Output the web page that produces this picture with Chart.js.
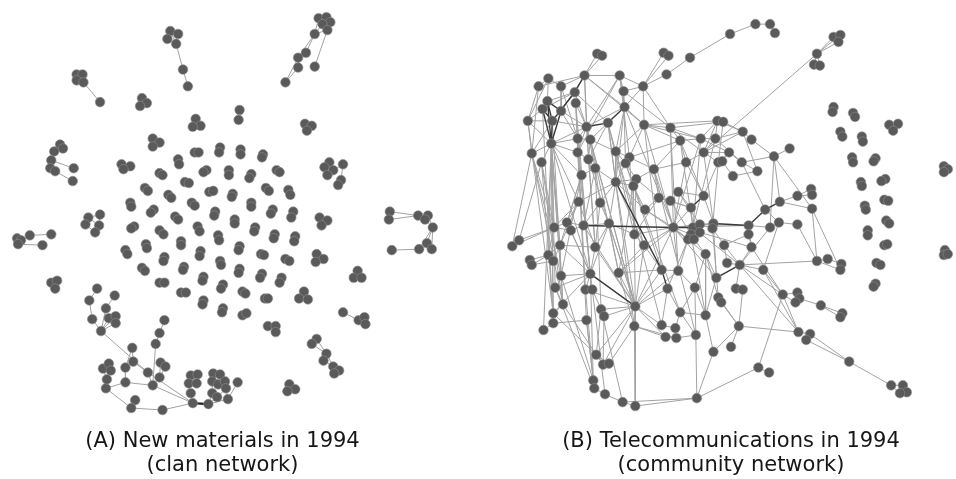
<!DOCTYPE html>
<html>
<head>
<meta charset="utf-8">
<script src="https://cdn.jsdelivr.net/npm/chart.js@4.4.1/dist/chart.umd.min.js"></script>
<style>
html, body { margin: 0; padding: 0; background: #fff; overflow: hidden; width: 956px; height: 479px; }
.wrap { position: absolute; top: 0; }
</style>
</head>
<body>
<div class="wrap" style="left:0"><canvas id="chartA" width="445" height="479"></canvas></div>
<div class="wrap" style="left:500px"><canvas id="chartB" width="462" height="479"></canvas></div>
<script>
// TITLES
const titleA = ["(A) New materials in 1994", "(clan network)"]
const titleB = ["(B) Telecommunications in 1994", "(community network)"]

// (A) NODES THAT HAVE TIES  [x, y]
const nodesA = [
    [169, 26], [177, 29], [166, 34], [175, 39], [182, 65], [187, 82],                          // 0-5
    [321, 13], [329, 12], [333, 17], [325, 19], [330, 25], [317, 29], [308, 48], [300, 53],    // 6-13
    [300, 63], [287, 78], [317, 62],                                                           // 14-16
    [73, 70], [79, 70], [73, 76], [80, 78], [97, 98],                                          // 17-21
    [56, 141], [59, 145], [50, 148], [47, 157], [46, 165], [51, 168], [70, 165], [69, 178],    // 22-29
    [12, 236], [16, 238], [13, 242], [25, 233], [47, 232], [38, 243],                          // 30-35
    [97, 212], [85, 215], [82, 222], [96, 223], [92, 230],                                     // 36-40
    [394, 209], [393, 217], [423, 213], [433, 213], [430, 217], [438, 225], [432, 241],        // 41-47
    [424, 247], [437, 247], [396, 248],                                                        // 48-50
    [332, 159], [327, 164], [336, 167], [330, 172], [346, 161], [344, 177], [341, 182],        // 51-57
    [346, 311], [362, 319], [368, 316], [369, 323],                                            // 58-61
    [319, 338], [314, 343], [329, 353], [326, 360], [336, 366], [342, 370], [337, 373],        // 62-68
    [94, 287], [112, 294], [86, 299], [103, 307], [106, 317], [113, 315], [113, 322],          // 69-75
    [89, 318], [98, 330], [163, 319], [158, 332], [154, 343], [151, 385], [130, 347],          // 76-82
    [131, 361], [123, 367], [123, 382], [103, 388], [104, 379], [100, 368], [106, 363],        // 83-89
    [108, 370], [146, 372], [159, 362], [164, 366], [158, 377], [133, 400], [129, 408],        // 90-96
    [161, 410], [192, 403], [208, 404], [228, 399], [238, 382], [190, 375], [197, 374],        // 97-103
    [188, 383], [196, 383], [190, 393], [213, 373], [220, 374], [212, 381], [218, 384],        // 104-110
    [225, 381], [226, 388], [212, 393], [217, 397]                                             // 111-114
]

const edgesA = [
    [0, 1], [0, 2], [1, 3], [2, 3], [0, 3], [3, 4], [4, 5],
    [6, 7], [6, 9], [7, 8], [8, 10], [9, 10], [9, 11], [10, 11], [6, 11], [7, 10], [11, 12], [11, 13],
    [12, 13], [13, 14], [14, 15], [13, 15], [10, 16],
    [17, 18], [17, 19], [18, 20], [19, 20], [20, 21],
    [22, 23], [22, 24], [24, 25], [25, 26], [26, 27], [25, 28], [27, 29], [23, 24],
    [30, 31], [31, 33], [33, 34], [32, 35], [30, 32], [31, 32],
    [36, 37], [37, 38], [36, 39], [38, 40], [39, 40], [37, 39],
    [41, 43], [42, 43], [43, 44], [43, 45], [44, 45], [44, 46], [45, 46], [46, 47], [46, 48], [46, 49],
    [47, 48], [47, 49], [48, 50],
    [51, 52], [51, 53], [52, 54], [53, 54], [52, 53], [53, 55], [55, 56], [56, 57],
    [58, 59], [59, 60], [59, 61], [60, 61],
    [62, 63], [62, 64], [63, 64], [64, 65], [64, 66], [65, 66], [66, 67], [66, 68], [67, 68],
    [69, 71], [71, 76], [76, 77], [70, 72], [72, 77], [73, 77], [74, 77], [75, 77],
    [78, 79], [79, 80], [80, 81], [82, 84], [82, 83], [83, 91], [84, 85], [85, 86], [85, 81],
    [81, 98], [86, 96], [96, 97], [97, 98], [99, 100], [100, 101], [77, 91], [91, 98], [91, 81],
    [94, 81], [92, 94], [93, 94], [92, 93], [86, 87], [87, 88], [88, 89], [89, 90], [87, 90],
    [95, 96], [98, 106], [106, 104], [104, 102], [102, 103], [103, 105], [104, 105],
    [99, 113], [113, 109], [109, 107], [107, 108], [108, 110], [109, 110], [110, 111], [111, 112],
    [112, 114], [113, 114], [99, 114], [100, 112]
]
const darkEdgesA = [[98, 99]]

// (A) NODES WITHOUT TIES (small clans)
const loneA = [
    [140, 94], [145, 99], [138, 102], [240, 106], [239, 116], [195, 115], [200, 122], [192, 123],
    [151, 135], [158, 139], [151, 143], [119, 161], [128, 163], [121, 166], [194, 149], [198, 149],
    [220, 144], [219, 149], [177, 156], [178, 161], [158, 170], [161, 172], [229, 167], [229, 172],
    [206, 167], [203, 169], [184, 179], [188, 180], [143, 185], [146, 188], [209, 189], [213, 188],
    [167, 192], [170, 195], [233, 191], [232, 194], [128, 200], [129, 204], [191, 200], [194, 203],
    [152, 207], [149, 210], [215, 209], [214, 213], [307, 120], [314, 122], [309, 127],
    [241, 146], [241, 151], [264, 151], [263, 154], [252, 171], [250, 175], [278, 167], [281, 169],
    [267, 185], [270, 188], [290, 187], [292, 192], [252, 200], [252, 204], [274, 207], [272, 211],
    [295, 209], [293, 215], [322, 215], [330, 218], [324, 223], [256, 225], [255, 229], [276, 232],
    [275, 236], [297, 234], [296, 239], [240, 244], [239, 248], [262, 252], [265, 253], [287, 257],
    [291, 259], [319, 252], [326, 257], [318, 260], [240, 267], [239, 271], [263, 272], [261, 276],
    [283, 276], [281, 281], [243, 290], [246, 292], [266, 297], [269, 297], [306, 290], [301, 297],
    [310, 298], [243, 314], [247, 312], [269, 325], [277, 325], [277, 331], [361, 269], [357, 276],
    [365, 276], [291, 384], [297, 389], [289, 391], [174, 214], [177, 217], [235, 217], [235, 221],
    [132, 224], [129, 226], [158, 228], [162, 232], [197, 224], [199, 229], [218, 233], [219, 238],
    [180, 239], [180, 243], [144, 242], [145, 246], [123, 248], [125, 252], [163, 255], [162, 259],
    [200, 249], [199, 254], [220, 259], [221, 263], [183, 265], [182, 268], [140, 266], [143, 269],
    [158, 281], [163, 281], [203, 275], [202, 279], [223, 283], [221, 287], [180, 291], [185, 291],
    [47, 281], [53, 279], [51, 287], [203, 299], [202, 303], [223, 307], [222, 311]
]

// (B) NODES THAT HAVE TIES
const nodesB = [
    [594, 49], [599, 51], [662, 48], [667, 51], [689, 53], [665, 70], [730, 29], [756, 19],     // 0-7
    [771, 19], [776, 28], [836, 32], [843, 30], [841, 37], [819, 49], [816, 60], [822, 61],     // 8-15
    [544, 74], [534, 82], [557, 82], [581, 71], [617, 71], [641, 82], [621, 87], [571, 88],     // 16-23
    [543, 97], [538, 105], [572, 99], [557, 107], [622, 103], [523, 117], [548, 117], [583, 123], // 24-31
    [605, 119], [642, 121], [669, 124], [717, 117], [723, 118], [547, 140], [574, 135], [587, 136], // 32-39
    [679, 137], [700, 135], [715, 135], [527, 150], [537, 159], [574, 149], [585, 156], [613, 148], // 40-47
    [627, 154], [623, 160], [592, 165], [652, 166], [685, 159], [703, 149], [718, 159], [578, 172], // 48-55
    [613, 179], [634, 176], [631, 183], [677, 189], [657, 195], [669, 198], [703, 193], [690, 205], // 56-63
    [575, 199], [597, 200], [643, 207], [743, 128], [752, 136], [791, 145], [775, 153], [729, 149], // 64-71
    [742, 159], [722, 158], [758, 168], [733, 173], [813, 186], [814, 192], [799, 193], [781, 199], // 72-79
    [766, 207], [814, 206], [550, 225], [563, 220], [567, 228], [580, 223], [606, 221], [632, 232], // 80-87
    [642, 243], [592, 245], [556, 243], [514, 238], [507, 244], [525, 258], [527, 263], [544, 253], // 88-95
    [549, 259], [672, 225], [692, 225], [699, 222], [690, 232], [699, 230], [687, 237], [693, 237], // 96-103
    [713, 221], [712, 226], [705, 252], [660, 268], [677, 269], [716, 276], [666, 287], [694, 286], // 104-111
    [718, 296], [721, 301], [587, 272], [616, 271], [557, 274], [551, 286], [582, 288], [589, 288], // 112-119
    [559, 303], [633, 305], [598, 308], [601, 315], [549, 312], [549, 322], [539, 329], [583, 319], // 120-127
    [632, 325], [679, 311], [705, 314], [660, 324], [674, 327], [664, 336], [675, 337], [695, 334], // 128-135
    [713, 351], [593, 354], [600, 364], [606, 363], [590, 380], [591, 388], [602, 394], [620, 402], // 136-143
    [633, 406], [696, 398], [749, 223], [780, 220], [771, 225], [799, 222], [749, 232], [724, 243], // 144-151
    [752, 245], [727, 261], [740, 263], [764, 268], [819, 259], [830, 257], [844, 262], [843, 268], // 152-159
    [736, 287], [743, 288], [784, 293], [799, 291], [801, 297], [797, 301], [823, 304], [845, 312], // 160-167
    [843, 316], [739, 325], [731, 346], [800, 331], [812, 333], [808, 339], [852, 361], [759, 367], // 168-175
    [770, 372], [895, 385], [907, 385], [911, 392], [904, 393]                                    // 176-180
]

const edgesB = [
    [21, 5], [5, 4], [4, 6], [6, 7], [7, 8], [8, 9], [0, 19], [1, 19], [2, 21], [3, 21],
    [13, 10], [13, 11], [13, 12], [13, 14], [13, 15], [13, 53],
    [19, 20], [19, 17], [19, 18], [19, 27], [19, 31], [19, 28], [19, 33], [20, 22], [20, 28], [20, 21],
    [20, 31], [20, 45], [21, 22], [21, 28], [21, 33], [21, 34], [23, 24], [23, 25], [23, 27], [23, 31],
    [23, 32], [27, 30], [29, 30], [29, 17], [29, 25], [29, 37], [16, 17], [16, 24], [18, 27], [16, 18],
    [28, 22], [28, 33], [28, 31], [28, 47], [28, 56], [32, 39], [32, 47], [32, 56], [32, 46], [31, 30],
    [31, 27], [31, 38], [31, 45], [31, 50], [33, 34], [33, 41], [33, 40], [33, 47], [33, 48], [33, 35],
    [34, 40], [34, 41], [34, 53], [34, 36], [34, 22], [37, 43], [37, 44], [37, 38], [37, 45], [37, 31],
    [37, 55], [37, 64], [37, 116], [37, 120], [37, 124], [37, 125], [37, 126], [37, 117], [43, 29], [43, 30],
    [38, 39], [45, 46], [38, 45], [39, 46], [45, 55], [46, 50], [47, 48], [47, 49], [47, 56], [47, 39],
    [48, 51], [49, 56], [49, 57], [48, 40], [50, 55], [50, 56], [50, 65], [51, 52], [51, 60], [51, 57],
    [51, 40], [56, 57], [56, 58], [56, 66], [56, 64], [56, 65], [56, 86], [58, 66], [57, 60], [58, 87],
    [60, 61], [59, 62], [60, 63], [61, 63], [59, 63], [63, 97], [60, 66], [66, 97], [40, 41], [41, 42],
    [42, 53], [53, 54], [52, 53], [52, 40], [35, 42], [36, 67], [35, 41], [53, 71], [54, 73], [42, 67],
    [52, 62], [54, 62], [64, 82], [64, 83], [65, 86], [65, 85], [64, 90],
    [67, 68], [68, 70], [70, 69], [70, 79], [70, 81], [72, 70], [71, 72], [71, 73], [74, 75], [72, 74],
    [73, 75], [76, 78], [77, 78], [79, 78], [80, 147], [147, 148], [147, 149], [150, 146], [150, 151],
    [151, 154], [153, 154], [152, 154], [155, 154], [154, 156], [154, 162], [154, 171], [156, 81],
    [156, 157], [157, 158], [156, 159], [162, 163], [162, 165], [162, 175], [164, 166], [166, 167],
    [166, 168], [169, 171], [169, 170], [169, 112], [171, 172], [173, 174], [172, 174], [174, 177],
    [177, 178], [177, 180], [178, 179], [175, 145], [73, 54], [71, 54], [67, 35],
    [82, 91], [82, 92], [82, 83], [82, 84], [82, 95], [82, 44], [82, 43], [83, 85], [84, 85], [85, 86],
    [86, 89], [86, 87], [86, 114], [87, 88], [87, 97], [88, 97], [88, 107], [89, 114], [89, 90], [90, 95],
    [90, 116], [90, 114], [90, 96], [95, 93], [95, 94], [96, 94], [97, 99], [97, 100], [97, 102], [97, 146],
    [97, 104], [97, 106], [97, 121], [97, 115], [97, 108], [98, 104], [99, 104], [100, 102], [101, 103],
    [102, 108], [103, 106], [106, 109], [106, 111], [107, 108], [108, 111], [110, 129], [110, 121],
    [111, 129], [112, 113], [111, 130], [129, 130], [129, 135], [130, 136], [131, 132], [133, 134],
    [131, 121], [132, 129], [134, 135], [135, 145], [133, 128], [114, 116], [114, 117], [114, 118],
    [114, 119], [114, 124], [114, 140], [115, 121], [115, 88], [115, 107], [117, 120], [120, 124],
    [124, 125], [125, 126], [125, 127], [118, 119], [118, 121], [119, 122], [121, 122], [121, 123],
    [121, 128], [121, 137], [121, 144], [121, 107], [122, 123], [128, 144], [137, 138], [137, 139],
    [140, 141], [141, 142], [142, 143], [143, 144], [143, 145], [127, 140], [43, 120], [44, 124],
    [38, 118], [45, 127], [46, 121], [50, 122], [55, 116], [31, 121], [32, 128], [39, 121], [47, 131],
    [49, 129], [51, 135], [33, 107], [34, 108], [41, 98], [42, 100], [106, 130], [146, 148], [150, 152],
    [151, 153], [160, 161], [160, 154], [161, 169], [155, 171], [152, 162],
    // more long ties across the dense core
    [37, 82], [37, 90], [37, 95], [43, 116], [44, 120], [30, 120], [29, 124], [25, 125], [43, 92],
    [44, 91], [37, 114], [38, 114], [39, 115], [45, 114], [46, 89], [26, 114], [26, 38], [31, 89],
    [32, 87], [28, 97], [33, 97], [34, 97], [40, 98], [41, 97], [47, 88], [48, 87], [49, 107], [51, 97],
    [52, 97], [53, 104], [54, 105], [22, 49], [20, 48], [19, 46], [18, 38], [16, 29], [17, 43], [26, 31],
    [27, 38], [26, 45], [56, 88], [56, 121], [57, 87], [58, 115], [65, 89], [64, 89], [55, 90], [55, 83],
    [50, 85], [84, 114], [83, 114], [85, 121], [86, 121], [87, 121], [88, 121], [89, 121], [115, 128],
    [86, 115], [120, 137], [124, 137], [122, 137], [123, 138], [127, 141], [116, 140], [117, 141],
    [118, 140], [119, 142], [122, 143], [121, 133], [108, 121], [110, 131], [111, 135], [109, 130],
    [106, 112], [104, 109], [105, 112], [97, 109], [102, 110], [100, 130], [98, 154], [99, 146],
    [101, 152], [105, 151], [62, 104], [63, 98], [59, 99], [61, 100], [66, 102], [60, 87], [53, 67],
    [41, 71], [42, 72], [40, 62], [35, 53], [36, 54], [67, 74], [72, 80], [70, 148], [79, 81],
    [146, 152], [147, 155], [81, 159], [149, 156], [148, 154], [175, 176], [162, 171], [155, 162],
    [169, 113], [136, 169], [145, 136], [144, 145], [128, 134], [121, 138], [128, 139]
]
const darkEdgesB = [
    [19, 23], [23, 30], [24, 25], [24, 30], [25, 30], [24, 37], [25, 37], [27, 37], [30, 37], [24, 27],
    [28, 32], [31, 32], [56, 107], [107, 110], [85, 97], [97, 98], [62, 63], [80, 79], [80, 146],
    [146, 104], [109, 154], [114, 121]
]

// (B) NODES WITHOUT TIES
const loneB = [
    [836, 103], [835, 108], [856, 109], [858, 113], [893, 121], [902, 120], [897, 127], [843, 128],
    [845, 133], [865, 133], [866, 138], [855, 154], [856, 159], [879, 155], [877, 158], [864, 179],
    [865, 183], [889, 176], [885, 178], [888, 197], [892, 198], [868, 203], [869, 207], [890, 218],
    [893, 221], [871, 228], [871, 233], [888, 243], [891, 242], [880, 261], [884, 263], [879, 282],
    [877, 285], [949, 163], [953, 166], [949, 169], [950, 248], [949, 253], [953, 252]
]

// BUAT GARIS DARI PASANGAN NODE, DIPUTUS DENGAN TITIK KOSONG
function edgeLine(nodes, edges) {
    let pts = []
    edges.forEach(([a, b]) => {
        pts.push({ x: nodes[a][0], y: nodes[a][1] })
        pts.push({ x: nodes[b][0], y: nodes[b][1] })
        pts.push({ x: nodes[a][0], y: null })
    })
    return pts
}

function toPoints(list) {
    return list.map(([x, y]) => ({ x, y }))
}

function nodeSet(list) {
    return {
        data: toPoints(list),
        pointRadius: 4.8,
        pointBorderWidth: 0.6,
        pointBackgroundColor: "#5a5a5a",
        pointBorderColor: "#8e8e8e",
        showLine: false,
        clip: false,
        order: 0
    }
}

function lineSet(nodes, edges, color, width, order) {
    return {
        data: edgeLine(nodes, edges),
        showLine: true,
        spanGaps: false,
        borderColor: color,
        borderWidth: width,
        pointRadius: 0,
        clip: false,
        order: order
    }
}

function makeChart(ctx, datasets, xMin, xMax, title) {
    return new Chart(ctx, {
        type: "scatter",
        data: { datasets },
        options: {
            responsive: false,
            animation: false,
            devicePixelRatio: 1,
            events: [],
            layout: { padding: 0 },
            plugins: {
                legend: { display: false },
                tooltip: { enabled: false },
                title: {
                    display: true,
                    position: "bottom",
                    text: title,
                    color: "#161616",
                    font: { family: "'DejaVu Sans', sans-serif", size: 21, weight: "normal", lineHeight: 24 / 21 },
                    padding: { top: 20, bottom: 1 }
                }
            },
            scales: {
                x: { type: "linear", min: xMin, max: xMax, display: false },
                y: { type: "linear", min: 0, max: 410, reverse: true, display: false }
            }
        }
    })
}

makeChart(document.getElementById("chartA"), [
    nodeSet(nodesA),
    nodeSet(loneA),
    lineSet(nodesA, darkEdgesA, "#222222", 2.2, 1),
    lineSet(nodesA, edgesA, "#a2a2a2", 1, 2)
], 0, 445, titleA)

makeChart(document.getElementById("chartB"), [
    nodeSet(nodesB),
    nodeSet(loneB),
    lineSet(nodesB, darkEdgesB, "#3a3a3a", 1.4, 1),
    lineSet(nodesB, edgesB, "#a2a2a2", 1, 2)
], 500, 962, titleB)
</script>
</body>
</html>
